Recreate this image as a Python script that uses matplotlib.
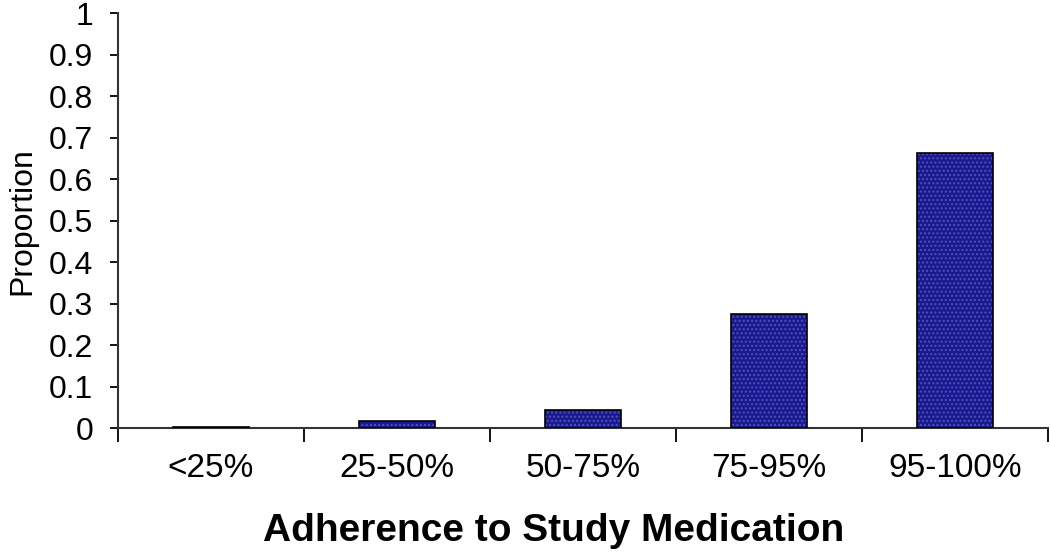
import matplotlib.pyplot as plt
import numpy as np

categories = ['<25%', '25-50%', '50-75%', '75-95%', '95-100%']
proportion = [0.003, 0.017, 0.043, 0.275, 0.663]

plt.rcParams['font.family'] = ['Liberation Sans', 'DejaVu Sans']

fig = plt.figure(figsize=(10.5, 5.53), dpi=100)
ax = fig.add_axes([0.1124, 0.226, 0.8856, 0.750])

x = np.arange(len(categories))
# dotted blue fill, then black outline on top
ax.bar(x, proportion, width=0.41, color='#1a1a8e', edgecolor='#5050c0',
       hatch='....', linewidth=0, zorder=2)
ax.bar(x, proportion, width=0.41, fill=False, edgecolor='black',
       linewidth=1.2, zorder=3)

ax.set_xlim(-0.5, len(categories) - 0.5)
ax.set_ylim(0, 1)
ax.set_yticks(np.arange(0, 1.01, 0.1))
ax.set_yticklabels(['0'] + ['%.1f' % v for v in np.arange(0.1, 0.95, 0.1)] + ['1'])

ax.set_xticks(np.arange(-0.5, len(categories), 1.0))
ax.set_xticklabels([])
ax.set_xticks(x, minor=True)
ax.set_xticklabels(categories, minor=True)
ax.tick_params(axis='x', which='minor', length=0, pad=18, labelsize=24)
ax.tick_params(axis='x', which='major', length=10, width=1.3, direction='out')
ax.tick_params(axis='y', length=6, width=1.3, direction='out', labelsize=23, pad=12)

for s in ['top', 'right']:
    ax.spines[s].set_visible(False)
for s in ['left', 'bottom']:
    ax.spines[s].set_linewidth(1.5)
    ax.spines[s].set_color('#333333')

ax.set_ylabel('Proportion', fontsize=23, labelpad=8)
ax.set_xlabel('Adherence to Study Medication', fontsize=28, fontweight='bold')
ax.xaxis.set_label_coords(0.468, -0.205)

fig.savefig('out.png', dpi=100)
